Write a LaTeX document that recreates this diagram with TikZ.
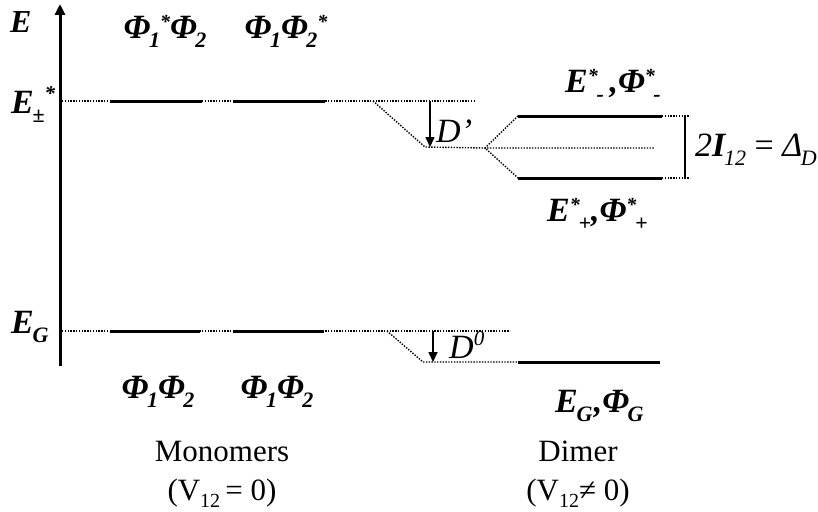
\documentclass[tikz,border=0pt]{standalone}
\usepackage{fontspec}
\setmainfont{Liberation Serif}
\usetikzlibrary{arrows.meta}
\newcommand\lo[1]{\kern-0.04em\raisebox{-0.28em}{\fontsize{22}{22}\selectfont #1}}
\newcommand\hi[1]{\raisebox{0.27em}{\fontsize{20}{20}\selectfont #1}}
\newcommand\hii[1]{\raisebox{0.36em}{\fontsize{21}{21}\selectfont #1}}
\newcommand\loc[1]{\raisebox{-0.25em}{\fontsize{20}{20}\selectfont #1}}
\begin{document}
\begin{tikzpicture}[x=1pt,y=-1pt,
  lvl/.style={line width=3pt},
  dotln/.style={line width=1.4pt,dash pattern=on 1.4pt off 1.4pt},
  darrow/.style={line width=1.6pt,-{Triangle[length=10pt,width=9pt]}},
  lab/.style={inner sep=0pt,font=\bfseries\itshape\fontsize{34}{34}\selectfont},
  ilab/.style={inner sep=0pt,font=\itshape\fontsize{34}{34}\selectfont},
  captext/.style={inner sep=0pt,font=\fontsize{31}{31}\selectfont}]
\useasboundingbox (0,0) rectangle (818,511);
% axis
\coordinate (ax0) at (60,366);
\coordinate (ax1) at (60,4);
\draw[line width=3pt,-{Triangle[length=11pt,width=10pt]}] (ax0) -- (ax1);
% ---- excited monomer levels
\coordinate (t0) at (62,101);
\coordinate (t1) at (475,101);
\draw[dotln] (t0) -- (t1);
\coordinate (ma1) at (110,101); \coordinate (ma2) at (202,101);
\coordinate (mb1) at (233,101); \coordinate (mb2) at (325,101);
\draw[lvl] (ma1) -- (ma2);
\draw[lvl] (mb1) -- (mb2);
% dimer excited
\coordinate (dx0) at (373,101);
\coordinate (dx1) at (425,147);
\coordinate (sp) at (485,148);
\coordinate (mid2) at (655,148);
\draw[dotln] (dx0) -- (dx1) -- (sp) -- (mid2);
\coordinate (up1) at (518,116); \coordinate (up2) at (662,116); \coordinate (up3) at (690,116);
\coordinate (dn1) at (518,178); \coordinate (dn2) at (662,178); \coordinate (dn3) at (690,178);
\draw[dotln] (up1) -- (sp) -- (dn1);
\draw[lvl] (up1) -- (up2);
\draw[lvl] (dn1) -- (dn2);
\draw[dotln] (up2) -- (up3);
\draw[dotln] (dn2) -- (dn3);
\coordinate (br1) at (685,116); \coordinate (br2) at (685,179);
\draw[line width=1.5pt] (br1) -- (br2);
\coordinate (ar1a) at (430,101); \coordinate (ar1b) at (430,147);
\draw[darrow] (ar1a) -- (ar1b);
% ---- ground levels
\coordinate (g0) at (62,331);
\coordinate (g1) at (510,331);
\draw[dotln] (g0) -- (g1);
\coordinate (ga1) at (110,331); \coordinate (ga2) at (200,331);
\coordinate (gb1) at (233,331); \coordinate (gb2) at (324,331);
\draw[lvl] (ga1) -- (ga2);
\draw[lvl] (gb1) -- (gb2);
\coordinate (gd0) at (387,331);
\coordinate (gd1) at (423,362);
\coordinate (gd2) at (518,362);
\coordinate (gd3) at (660,362);
\draw[dotln] (gd0) -- (gd1) -- (gd2);
\draw[lvl] (gd2) -- (gd3);
\coordinate (ar2a) at (433,331); \coordinate (ar2b) at (433,362);
\draw[darrow] (ar2a) -- (ar2b);
% ---- labels
\node[lab,anchor=base west,font=\bfseries\itshape\fontsize{32}{32}\selectfont] (lE) at (10,33) {E};
\node[lab,anchor=base west] (lEs) at (11,113) {E\lo{±}\hii{*}};
\node[lab,anchor=base west] (lEG) at (11,333) {E\lo{G}};
\node[lab,anchor=base] (p1) at (165,38) {Φ\lo{1}\hi{*}Φ\lo{2}};
\node[lab,anchor=base] (p2) at (286,38) {Φ\lo{1}Φ\lo{2}\hi{*}};
\node[lab,anchor=base] (p3) at (158,398) {Φ\lo{1}Φ\lo{2}};
\node[lab,anchor=base] (p4) at (277,398) {Φ\lo{1}Φ\lo{2}};
\node[lab,anchor=base west] (dm) at (565,92) {E\hi{*}\lo{-}\,,Φ\hi{*}\lo{-}};
\node[lab,anchor=base west] (dp) at (547,221) {E\hi{*}\lo{+},Φ\hi{*}\lo{+}};
\node[lab,anchor=base west] (dg) at (555,412) {E\lo{G}\kern0.04em,Φ\lo{G}};
\node[ilab,anchor=base west] (Dp) at (436,142) {D’};
\node[ilab,anchor=base west] (D0) at (449,358) {D\hii{0}};
\node[ilab,anchor=base west] (split) at (695,156) {2\textbf{I}\lo{12}\ {\upshape=}\ Δ\lo{D}};
\node[captext,anchor=base] (mon) at (222,461) {Monomers};
\node[captext,anchor=base] (monv) at (222,500) {(V\loc{12}\,= 0)};
\node[captext,anchor=base] (dim) at (578,461) {Dimer};
\node[captext,anchor=base] (dimv) at (578,500) {(V\loc{12}≠ 0)};
\end{tikzpicture}
\end{document}
